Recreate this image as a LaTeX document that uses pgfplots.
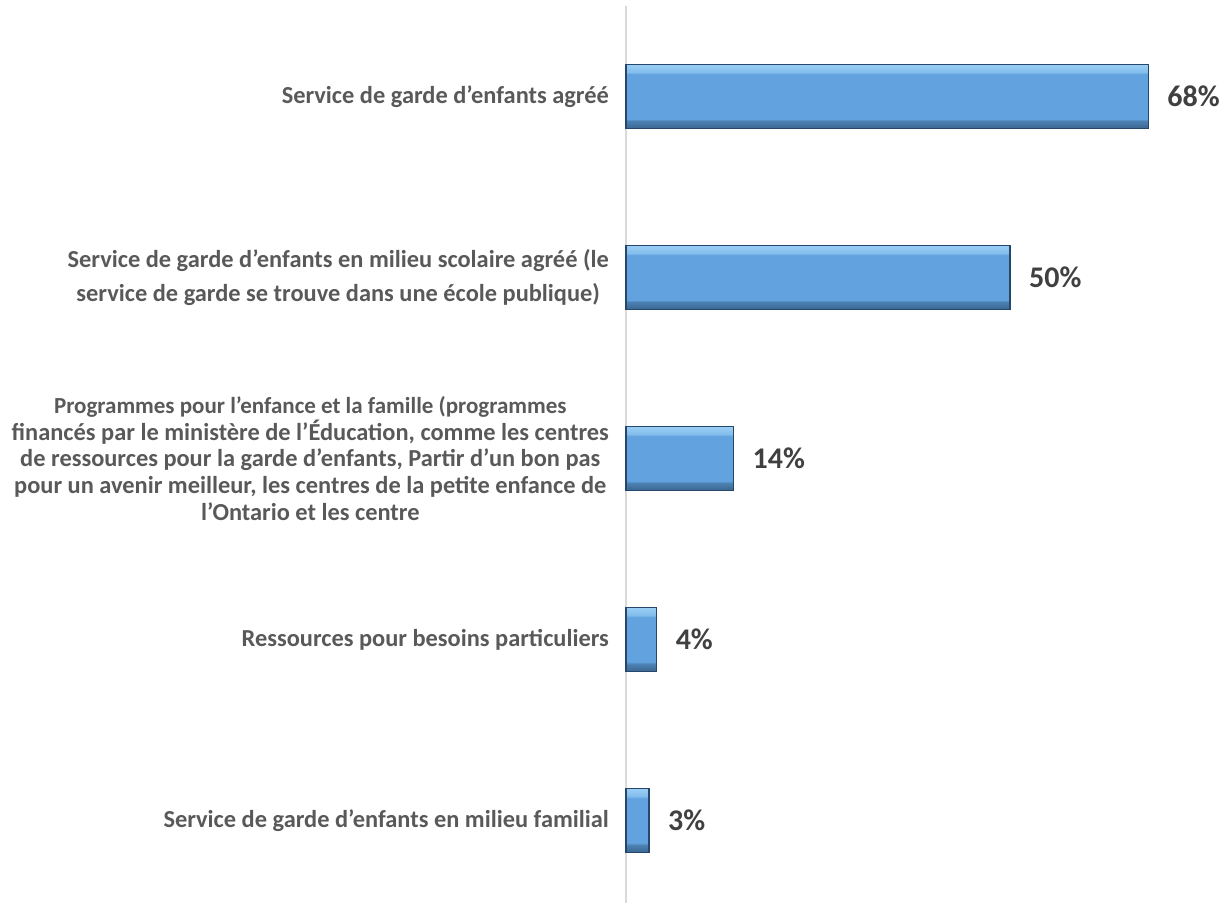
\documentclass[border=0pt]{standalone}
\usepackage{fontspec}
\setmainfont{Carlito}
\usepackage{pgfplots}
\pgfplotsset{compat=1.18}
\definecolor{barblue}{HTML}{62A3DF}
\definecolor{baredge}{HTML}{24476B}
\definecolor{bvtop}{HTML}{9ACFF5}
\definecolor{bvbot}{HTML}{3A6690}
\definecolor{labgray}{HTML}{595959}
\definecolor{valgray}{HTML}{404040}
\definecolor{axgray}{HTML}{D9D9D9}

% light top edge, flat middle, dark bottom edge (tikz maps 25bp..75bp onto the bar)
\pgfdeclareverticalshading{bevelv}{100bp}{%
  color(0bp)=(bvbot); color(25bp)=(bvbot); color(31bp)=(bvbot!55!barblue); color(32.5bp)=(barblue);
  color(67.5bp)=(barblue); color(69bp)=(bvtop!60!barblue); color(75bp)=(bvtop); color(100bp)=(bvtop)}

\begin{document}
\begin{tikzpicture}
\path[use as bounding box] (0,0) rectangle (611pt,451.5pt);
\begin{axis}[
  at={(313pt,-4pt)}, anchor=south west,
  width=298pt, height=452.5pt, scale only axis,
  xbar, bar width=32pt, bar shift=0pt,
  xmin=0, xmax=77.6,
  ymin=-0.5, ymax=4.5, y dir=reverse,
  axis x line=none,
  axis y line=left,
  y axis line style={draw=axgray, line width=1pt, -},
  ytick={0,1,2,3,4}, major tick length=0pt,
  yticklabels={
    {Service de garde d’enfants agréé},
    {Service de garde d’enfants en milieu scolaire agréé (le\\service de garde se trouve dans une école publique)},
    {\fontsize{11.5}{13}\selectfont Programmes pour l’enfance et la famille (programmes\\[-3.5pt]financés par le ministère de l’Éducation, comme les centres\\[-3.5pt]de ressources pour la garde d’enfants, Partir d’un bon pas\\[-3.5pt]pour un avenir meilleur, les centres de la petite enfance de\\[-3.5pt]l’Ontario et les centre},
    {Ressources pour besoins particuliers},
    {Service de garde d’enfants en milieu familial}},
  yticklabel style={align=center, font=\fontsize{12.2}{16.8}\selectfont\bfseries, text=labgray, xshift=-5pt},
  clip=false,
  barstyle/.style={shade, shading=bevelv, draw=baredge, line width=0.6pt},
]
\addplot[barstyle] coordinates {(68,0)};
\addplot[barstyle] coordinates {(50,1)};
\addplot[barstyle] coordinates {(14,2)};
\addplot[barstyle] coordinates {(4,3)};
\addplot[barstyle] coordinates {(3,4)};
% value labels
\addplot[draw=none, fill=none,
  nodes near coords={\pgfmathprintnumber{\pgfplotspointmeta}\%},
  nodes near coords style={anchor=west, xshift=6pt, font=\fontsize{15}{18}\selectfont\bfseries, text=valgray,
    /pgf/number format/assume math mode=true}]
  coordinates {(68,0) (50,1) (14,2) (4,3) (3,4)};
\end{axis}
\end{tikzpicture}
\end{document}
